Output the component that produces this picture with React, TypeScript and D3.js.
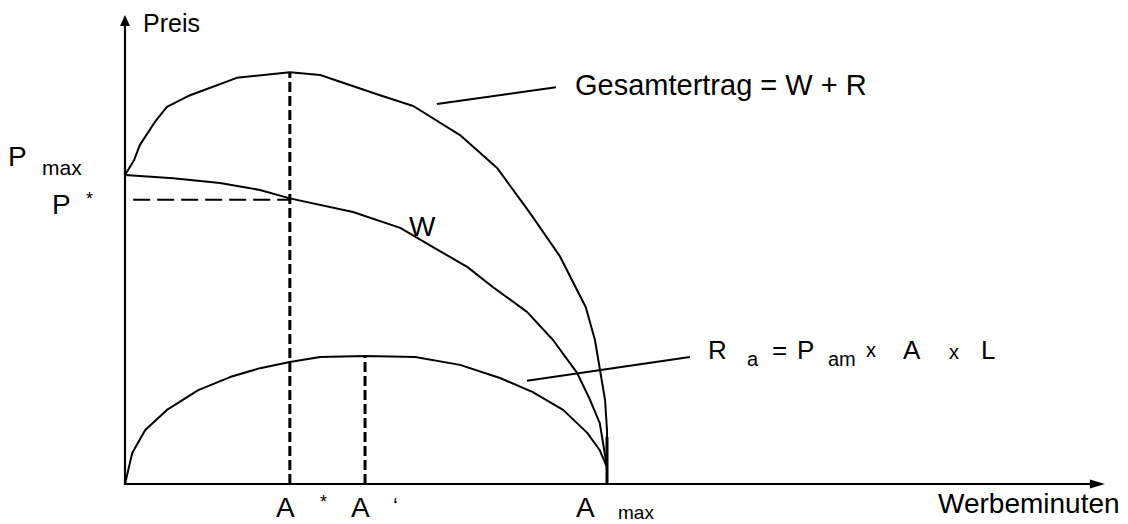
import React from "react";
import * as d3 from "d3";

// Curve data (x: Werbeminuten units, A_max = 100; y: Preis units, axis top = 100)
const gesamtX = [0, 1.9, 3.1, 6.2, 8.7, 13.5, 23.2, 34.2, 40.5, 52.9, 59.8, 69.5, 77.2, 84.0, 90.2, 95.6, 97.5, 99.6, 100, 100];
const gesamtY = [65.9, 69.1, 72.3, 77.2, 80.4, 82.9, 86.6, 87.8, 87.2, 82.9, 80.6, 74.4, 67.4, 57.8, 48.6, 37.7, 30.7, 17.9, 11.5, 0];

const wX = [0, 10.0, 19.7, 28.0, 34.2, 47.3, 57.1, 63.9, 71.0, 76.3, 83.4, 88.8, 93.8, 96.5, 98.5, 100, 100];
const wY = [65.9, 65.2, 64.2, 62.7, 60.9, 58.0, 54.6, 50.5, 46.3, 42.0, 36.7, 30.7, 23.7, 17.9, 13.0, 3.6, 0];

const rX = [0, 1.5, 4.2, 8.7, 15.2, 21.8, 28.0, 34.2, 40.5, 49.8, 60.2, 69.5, 77.8, 84.6, 90.9, 95.9, 98.5, 100, 100];
const rY = [0, 6.6, 11.5, 15.8, 20.0, 22.8, 24.7, 26.0, 27.1, 27.3, 27.1, 25.4, 22.6, 19.6, 15.8, 10.9, 7.2, 3.6, 0];

// Key values
const aStar = 34.2;
const aPrime = 49.8;
const aMax = 100;
const pStar = 60.6;
const gesamtPeak = 87.8;
const rPeak = 27.3;
const xAxisEnd = 203.3;
const yAxisEnd = 100;

// Leader lines [x1, y1, x2, y2] in data units
const gesamtLeader = [64.7, 81.0, 89.4, 84.6];
const rLeader = [83.4, 22.0, 117.2, 27.1];

const W = 1128;
const H = 524;
const FONT = "'Liberation Sans', Arial, Helvetica, sans-serif";

export default function App() {
  const x = d3.scaleLinear().domain([0, 100]).range([125, 607]);
  const y = d3.scaleLinear().domain([0, 100]).range([484, 15]);

  const toPts = (xs: number[], ys: number[]) => xs.map((v, i) => [v, ys[i]] as [number, number]);
  const line = d3
    .line<[number, number]>()
    .x((d) => x(d[0]))
    .y((d) => y(d[1]))
    .curve(d3.curveLinear);

  const x0 = x(0);
  const y0 = y(0);
  const xEnd = x(xAxisEnd);
  const yEnd = y(yAxisEnd);

  const curveStyle = { fill: "none", stroke: "#000", strokeWidth: 2, strokeLinejoin: "round" as const };

  return (
    <svg
      width={W}
      height={H}
      style={{ position: "absolute", left: 0, top: 0, background: "#fff" }}
      fontFamily={FONT}
    >
      <rect x={0} y={0} width={W} height={H} fill="#fff" />
      {/* Axes */}
      <line x1={x0} y1={y0} x2={xEnd - 12} y2={y0} stroke="#000" strokeWidth={2.2} />
      <path d={`M${xEnd},${y0} L${xEnd - 15},${y0 - 4.5} L${xEnd - 15},${y0 + 4.5} Z`} fill="#000" />
      <line x1={x0} y1={y0 + 1} x2={x0} y2={yEnd + 8} stroke="#000" strokeWidth={2.2} />
      <path d={`M${x0},${yEnd} L${x0 - 5},${yEnd + 11} L${x0 + 5},${yEnd + 11} Z`} fill="#000" />

      {/* Dashed helper lines */}
      <line x1={x(aStar)} y1={y0} x2={x(aStar)} y2={y(gesamtPeak)} stroke="#000" strokeWidth={3} strokeDasharray="10,4" />
      <line x1={x(aPrime)} y1={y0} x2={x(aPrime)} y2={y(rPeak)} stroke="#000" strokeWidth={3} strokeDasharray="10,4" />
      <line x1={x(1.7)} y1={y(pStar)} x2={x(aStar)} y2={y(pStar)} stroke="#000" strokeWidth={2} strokeDasharray="17,7" />

      {/* Curves */}
      <path d={line(toPts(gesamtX, gesamtY)) || ""} {...curveStyle} />
      <path d={line(toPts(wX, wY)) || ""} {...curveStyle} />
      <path d={line(toPts(rX, rY)) || ""} {...curveStyle} />
      <line x1={x(aMax)} y1={y(10)} x2={x(aMax)} y2={y0} stroke="#000" strokeWidth={3} />

      {/* Leader lines */}
      <line x1={x(gesamtLeader[0])} y1={y(gesamtLeader[1])} x2={x(gesamtLeader[2])} y2={y(gesamtLeader[3])} stroke="#000" strokeWidth={2} />
      <line x1={x(rLeader[0])} y1={y(rLeader[1])} x2={x(rLeader[2])} y2={y(rLeader[3])} stroke="#000" strokeWidth={2} />

      {/* Texts */}
      <g fill="#000">
        <text x={143} y={32} fontSize={25}>Preis</text>
        <text x={575} y={95} fontSize={29}>Gesamtertrag = W + R</text>
        <text x={409} y={236} fontSize={28}>W</text>

        <text x={8} y={166} fontSize={28}>P</text>
        <text x={42} y={175} fontSize={21}>max</text>
        <text x={52} y={214} fontSize={28}>P</text>
        <text x={86} y={205} fontSize={18}>*</text>

        <text x={276} y={517} fontSize={28}>A</text>
        <text x={320} y={508} fontSize={18}>*</text>
        <text x={351} y={517} fontSize={28}>A</text>
        <text x={393} y={513} fontSize={22}>‘</text>
        <text x={576} y={517} fontSize={28}>A</text>
        <text x={618} y={519} fontSize={19}>max</text>
        <text x={938} y={513} fontSize={28}>Werbeminuten</text>

        <text x={708} y={359} fontSize={26}>R</text>
        <text x={747} y={366} fontSize={20}>a</text>
        <text x={772} y={359} fontSize={26}>=</text>
        <text x={797} y={359} fontSize={26}>P</text>
        <text x={828} y={366} fontSize={20}>am</text>
        <text x={866} y={357} fontSize={20}>x</text>
        <text x={903} y={359} fontSize={26}>A</text>
        <text x={949} y={359} fontSize={20}>x</text>
        <text x={981} y={359} fontSize={26}>L</text>
      </g>
    </svg>
  );
}
